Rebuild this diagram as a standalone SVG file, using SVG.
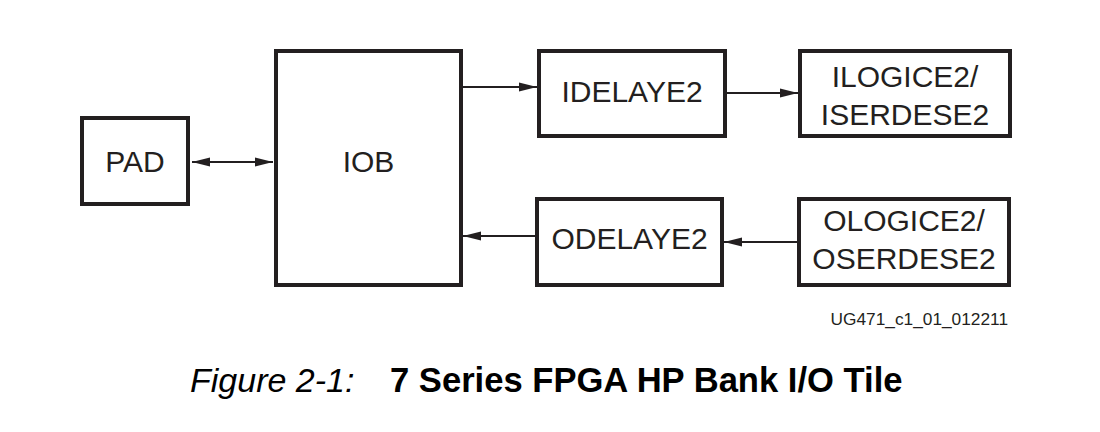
<svg xmlns="http://www.w3.org/2000/svg" width="1100" height="432" viewBox="0 0 1100 432">
<style>
.box{fill:#fff;stroke:#231f20;stroke-width:4}
.lbl{font-family:"Liberation Sans",Arial,sans-serif;font-size:30px;fill:#231f20;text-anchor:middle}
.conn{stroke:#231f20;stroke-width:2;fill:none}
.id{font-family:"Liberation Sans",Arial,sans-serif;font-size:17.3px;fill:#231f20;text-anchor:end}
.cap{font-family:"Liberation Sans",Arial,sans-serif;fill:#000}
</style>
<defs>
<marker id="ah" markerUnits="userSpaceOnUse" markerWidth="18" markerHeight="10" refX="18" refY="5" orient="auto-start-reverse" viewBox="0 0 18 10">
<path d="M0,0.5 L18,5 L0,9.5 z" fill="#231f20"/>
</marker>
</defs>
<rect width="1100" height="432" fill="#fff"/>
<g id="connectors">
<line class="conn" x1="192" y1="162" x2="273" y2="162" marker-start="url(#ah)" marker-end="url(#ah)"/>
<line class="conn" x1="463" y1="87" x2="537" y2="87" marker-end="url(#ah)"/>
<line class="conn" x1="727" y1="93" x2="798" y2="93" marker-end="url(#ah)"/>
<line class="conn" x1="797" y1="242" x2="724" y2="242" marker-end="url(#ah)"/>
<line class="conn" x1="535" y1="236" x2="463" y2="236" marker-end="url(#ah)"/>
</g>
<g id="pad">
<rect class="box" x="82" y="118" width="106" height="86"/>
<text class="lbl" x="135" y="172" font-size="29">PAD</text>
</g>
<g id="iob">
<rect class="box" x="276" y="51" width="185" height="234"/>
<text class="lbl" x="368.5" y="172">IOB</text>
</g>
<g id="idelaye2">
<rect class="box" x="539" y="51" width="186" height="85"/>
<text class="lbl" x="632" y="102">IDELAYE2</text>
</g>
<g id="ilogice2">
<rect class="box" x="800" y="51" width="210" height="85"/>
<text class="lbl" x="905" y="87">ILOGICE2/</text>
<text class="lbl" x="905" y="125">ISERDESE2</text>
</g>
<g id="odelaye2">
<rect class="box" x="537" y="199" width="185" height="86"/>
<text class="lbl" x="629.5" y="249">ODELAYE2</text>
</g>
<g id="ologice2">
<rect class="box" x="799" y="199" width="210" height="86"/>
<text class="lbl" x="904" y="231">OLOGICE2/</text>
<text class="lbl" x="904" y="269">OSERDESE2</text>
</g>
<text class="id" x="1008" y="325">UG471_c1_01_012211</text>
<text class="cap" x="190" y="392" font-size="34" font-style="italic">Figure 2-1:</text>
<text class="cap" x="390" y="392" font-size="34.6" font-weight="bold">7 Series FPGA HP Bank I/O Tile</text>
</svg>
